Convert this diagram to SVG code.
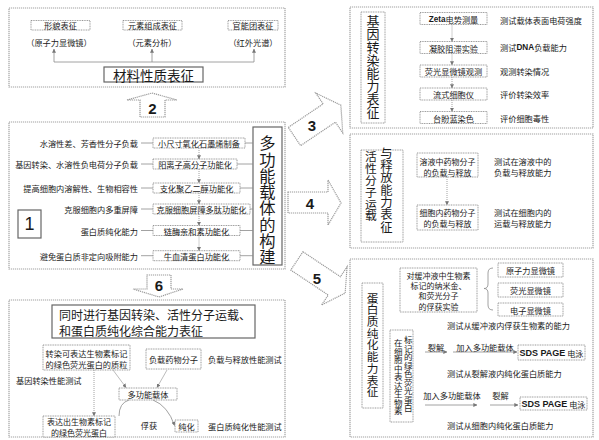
<svg xmlns="http://www.w3.org/2000/svg" width="599" height="440" viewBox="0 0 599 440">
<style>
text{font-family:"Noto Sans CJK SC","Noto Sans",sans-serif;fill:#1a1a1a;dominant-baseline:central}
.t{font-size:8.2px}
.tm{font-size:8.2px;text-anchor:middle}
.te{font-size:8.2px;text-anchor:end}
.pb{fill:none;stroke:#a2a2a2;stroke-width:1.2;stroke-dasharray:1.2 0.8}
.bx{fill:#fff;stroke:#8c8c8c;stroke-width:0.9;stroke-dasharray:1 0.7}
.tb{fill:#fff;stroke:#666;stroke-width:1.2}
.big{fill:#fff;stroke:#9a9a9a;stroke-width:1.2;stroke-dasharray:1.2 0.8}
.num{font-family:"Liberation Sans",Arial,sans-serif;font-weight:bold;font-size:15px;text-anchor:middle}
.ln{fill:none;stroke:#8a8a8a;stroke-width:0.8}
.dl{fill:none;stroke:#8a8a8a;stroke-width:0.8;stroke-dasharray:1 1}
.vt{writing-mode:vertical-rl;text-orientation:upright}
.lat{font-family:"Liberation Sans",Arial,sans-serif;font-weight:bold}
</style>
<defs>
<marker id="ah" viewBox="0 0 6 6" refX="5.5" refY="3" markerWidth="4" markerHeight="4" markerUnits="userSpaceOnUse" orient="auto"><path d="M0,0 L6,3 L0,6 z" fill="#777"/></marker>
</defs>

<!-- Panel A: material characterization -->
<g id="panelA"><rect class="pb" x="9" y="8" width="276" height="79"/></g>
<g id="nA1"><rect class="bx" x="31" y="20.5" width="59" height="9.5"/><text class="tm" x="60.5" y="25.3">形貌表征</text><text class="tm" x="59" y="42">（原子力显微镜）</text></g>
<g id="nA2"><rect class="bx" x="123" y="20.5" width="59" height="9.5"/><text class="tm" x="152.5" y="25.3">元素组成表征</text><text class="tm" x="152" y="42">（元素分析）</text></g>
<g id="nA3"><rect class="bx" x="228" y="20.5" width="50" height="9.5"/><text class="tm" x="253" y="25.3">官能团表征</text><text class="tm" x="253" y="42">（红外光谱）</text></g>
<g id="nAT"><rect class="tb" x="104" y="67" width="99" height="15"/><text x="153.5" y="74.5" style="font-size:13.5px;text-anchor:middle">材料性质表征</text></g>

<!-- Panel 1 -->
<g id="panel1"><rect class="pb" x="9" y="122" width="276" height="147"/></g>
<g id="n1num"><rect class="tb" x="18" y="210" width="23" height="28"/><text x="29.5" y="224" style="font-family:'Liberation Sans',Arial,sans-serif;font-size:18px;text-anchor:middle">1</text></g>
<g id="n1l1"><text class="te" x="138" y="143">水溶性差、芳香性分子负载</text></g>
<g id="n1l2"><text class="te" x="138" y="164">基因转染、水溶性负电荷分子负载</text></g>
<g id="n1l3"><text class="te" x="138" y="188">提高细胞内溶解性、生物相容性</text></g>
<g id="n1l4"><text class="te" x="138" y="209">克服细胞内多重屏障</text></g>
<g id="n1l5"><text class="te" x="138" y="230.5">蛋白质纯化能力</text></g>
<g id="n1l6"><text class="te" x="138" y="255.7">避免蛋白质非定向吸附能力</text></g>
<g id="n1b1"><rect class="bx" x="153" y="138" width="92" height="10"/><text class="tm" x="199" y="143">小尺寸氧化石墨烯制备</text></g>
<g id="n1b2"><rect class="bx" x="153" y="159" width="84" height="10"/><text class="tm" x="195" y="164">阳离子高分子功能化</text></g>
<g id="n1b3"><rect class="bx" x="153" y="183" width="87" height="10"/><text class="tm" x="196.5" y="188">支化聚乙二醇功能化</text></g>
<g id="n1b4"><rect class="bx" x="153" y="204" width="97" height="10"/><text class="tm" x="201.5" y="209">克服细胞屏障多肽功能化</text></g>
<g id="n1b5"><rect class="bx" x="153" y="225.5" width="87" height="10"/><text class="tm" x="196.5" y="230.5">链酶亲和素功能化</text></g>
<g id="n1b6"><rect class="bx" x="153" y="250.7" width="87" height="10"/><text class="tm" x="196.5" y="255.7">牛血清蛋白功能化</text></g>
<g id="n1T"><rect class="tb" x="253" y="127" width="29" height="138"/><text class="vt" x="267.5" y="135" style="font-size:16.3px">多功能载体的构建</text></g>

<!-- Panel 6 -->
<g id="panel6"><rect class="pb" x="9" y="300" width="276" height="137"/></g>
<g id="n6T"><rect class="tb" x="52" y="305" width="203" height="33"/><text style="font-size:12px"><tspan x="59" y="313.8">同时进行基因转染、活性分子运载、</tspan><tspan x="59" y="329.8">和蛋白质纯化综合能力表征</tspan></text></g>
<g id="n6plasmid"><rect class="bx" x="43" y="345" width="87" height="25"/><text class="tm"><tspan x="86.5" y="352.5">转染可表达生物素标记</tspan><tspan x="86.5" y="363.5">的绿色荧光蛋白的质粒</tspan></text></g>
<g id="n6drug"><rect class="bx" x="146" y="349" width="55" height="20"/><text class="tm" x="173.5" y="359">负载药物分子</text></g>
<g id="n6t1"><text class="t" x="208" y="358.5">负载与释放性能测试</text></g>
<g id="n6t2"><text class="t" x="16" y="380">基因转染性能测试</text></g>
<g id="n6carrier"><rect class="bx" x="119" y="388" width="58" height="12"/><text class="tm" x="148" y="394">多功能载体</text></g>
<g id="n6gfp"><rect class="bx" x="43" y="416" width="72" height="21"/><text class="tm" style="font-size:8px"><tspan x="79" y="421.4">表达出生物素标记</tspan><tspan x="79" y="431.6">的绿色荧光蛋白</tspan></text></g>
<g id="n6cap"><text class="tm" x="149" y="425">俘获</text></g>
<g id="n6pur"><rect class="bx" x="175" y="420" width="23" height="12"/><text class="tm" x="186.5" y="426">纯化</text></g>
<g id="n6t3"><text class="t" x="208" y="426">蛋白质纯化性能测试</text></g>

<!-- Panel 3 -->
<g id="panel3"><rect class="pb" x="350" y="7" width="243" height="121"/></g>
<g id="n3T"><rect class="bx" x="361" y="12" width="24" height="111"/><text class="vt" x="373" y="14.2" style="font-size:13px">基因转染能力表征</text></g>
<g id="n3b1"><rect class="bx" x="420" y="12.5" width="67" height="12"/><text class="tm" x="453.5" y="18.7"><tspan class="lat">Zeta</tspan>电势测量</text><text class="t" x="500" y="19.5">测试载体表面电荷强度</text></g>
<g id="n3b2"><rect class="bx" x="420" y="41.5" width="67" height="12"/><text class="tm" x="453.5" y="47.5">凝胶阻滞实验</text><text class="t" x="500" y="47">测试<tspan class="lat">DNA</tspan>负载能力</text></g>
<g id="n3b3"><rect class="bx" x="420" y="65" width="67" height="12"/><text class="tm" x="453.5" y="71">荧光显微镜观测</text><text class="t" x="500" y="70.5">观测转染情况</text></g>
<g id="n3b4"><rect class="bx" x="420" y="88" width="67" height="12"/><text class="tm" x="453.5" y="94">流式细胞仪</text><text class="t" x="500" y="94">评价转染效率</text></g>
<g id="n3b5"><rect class="bx" x="420" y="111.5" width="67" height="12"/><text class="tm" x="453.5" y="117.5">台盼蓝染色</text><text class="t" x="500" y="117.5">评价细胞毒性</text></g>

<!-- Panel 4 -->
<g id="panel4"><rect class="pb" x="350" y="134" width="243" height="114"/></g>
<g id="n4T"><rect class="bx" x="361" y="150" width="42" height="92"/><text class="vt" x="371" y="151.1" style="font-size:11.8px">活性分子运载</text><text class="vt" x="386.5" y="146.9" style="font-size:12.3px">与释放能力表征</text></g>
<g id="n4b1"><rect class="bx" x="417" y="153" width="61" height="24"/><text class="tm" style="font-size:8px"><tspan x="447.5" y="160.5">溶液中药物分子</tspan><tspan x="447.5" y="171.5">的负载与释放</tspan></text></g>
<g id="n4b2"><rect class="bx" x="417" y="205" width="61" height="25"/><text class="tm" style="font-size:8px"><tspan x="447.5" y="211.7">细胞内药物分子</tspan><tspan x="447.5" y="223">的负载与释放</tspan></text></g>
<g id="n4t1"><text class="t"><tspan x="494" y="160.5">测试在溶液中的</tspan><tspan x="494" y="171.5">负载与释放能力</tspan></text></g>
<g id="n4t2"><text class="t"><tspan x="494" y="211.7">测试在细胞内的</tspan><tspan x="494" y="222.8">运载与释放能力</tspan></text></g>

<!-- Panel 5 -->
<g id="panel5"><rect class="pb" x="350" y="259" width="243" height="178"/></g>
<g id="n5T"><rect class="bx" x="362" y="283" width="21" height="125"/><text class="vt" x="372.5" y="292.4" style="font-size:11.7px">蛋白质纯化能力表征</text></g>
<g id="n5cap"><rect class="bx" x="400" y="268" width="77" height="44"/><text class="tm" style="font-size:8px"><tspan x="438.5" y="274.8">对缓冲液中生物素</tspan><tspan x="438.5" y="285.1">标记的纳米金、</tspan><tspan x="438.5" y="295.4">和荧光分子</tspan><tspan x="438.5" y="305.7">的俘获实验</tspan></text></g>
<g id="n5m1"><rect class="bx" x="498" y="263" width="65" height="14"/><text class="tm" x="530.5" y="270">原子力显微镜</text></g>
<g id="n5m2"><rect class="bx" x="498" y="283" width="65" height="14"/><text class="tm" x="530.5" y="290">荧光显微镜</text></g>
<g id="n5m3"><rect class="bx" x="498" y="303" width="65" height="13"/><text class="tm" x="530.5" y="309.5">电子显微镜</text></g>
<g id="n5t1"><text class="t" x="447" y="325">测试从缓冲液内俘获生物素的能力</text></g>
<g id="n5gfp"><rect class="bx" x="390" y="330" width="23" height="92"/><text class="vt" x="398.3" y="339" style="font-size:8.5px">在细胞中表达生物素</text><text class="vt" x="408.3" y="335.7" style="font-size:8.5px">标记的绿色荧光蛋白</text></g>
<g id="n5r1"><text class="tm" x="436" y="346.7">裂解</text><text class="tm" x="485" y="346.7">加入多功能载体</text></g>
<g id="n5sds1"><rect class="bx" x="518" y="345" width="67" height="15"/><text class="tm" x="551.5" y="352.5"><tspan class="lat" style="font-size:9px">SDS PAGE</tspan> 电泳</text></g>
<g id="n5t2"><text class="t" x="447" y="373">测试从裂解液内纯化蛋白质能力</text></g>
<g id="n5r2"><text class="tm" x="452" y="395">加入多功能载体</text><text class="tm" x="500.5" y="395">裂解</text></g>
<g id="n5sds2"><rect class="bx" x="520" y="397" width="67" height="13"/><text class="tm" x="553.5" y="403.5"><tspan class="lat" style="font-size:9px">SDS PAGE</tspan> 电泳</text></g>
<g id="n5t3"><text class="t" x="447" y="425">测试从细胞内纯化蛋白质能力</text></g>

<!-- Big block arrows -->
<g id="arrow2"><polygon class="big" points="140,117 140,100 127,100 152,93 177,100 165,100 165,117"/><text class="num" x="152.5" y="108.5">2</text></g>
<g id="arrow6"><polygon class="big" points="147,275 171,275 171,289 183,289 159,297 133,289 147,289"/><text class="num" x="159" y="285">6</text></g>
<g id="arrow3"><polygon class="big" transform="translate(318.5,120.3) rotate(-34)" points="-29,-11 13,-11 13,-24 27,0 13,24 13,11 -29,11"/><text class="num" x="312" y="125">3</text></g>
<g id="arrow4"><polygon class="big" points="288,192 328,192 328,180 341,203 328,225 328,213 288,213"/><text class="num" x="310" y="203">4</text></g>
<g id="arrow5"><polygon class="big" transform="translate(321,277) rotate(33.7)" points="-29,-11 16,-11 16,-23 29,0 16,23 16,11 -29,11"/><text class="num" x="317" y="278">5</text></g>

<!-- Connectors -->
<g id="connectors">
<path class="ln" d="M54,62 H254"/>
<path class="ln" d="M54,62 V49" marker-end="url(#ah)"/>
<path class="ln" d="M152,62 V49" marker-end="url(#ah)"/>
<path class="ln" d="M254,62 V49" marker-end="url(#ah)"/>
<path class="ln" d="M141,143 H153 M141,164 H153 M141,188 H153 M141,209 H153 M141,230.5 H153 M141,255.7 H153"/>
<path class="ln" d="M245,143 H253 M237,164 H253 M240,188 H253 M250,209 H253 M240,230.5 H253 M240,255.7 H253"/>
<path class="dl" d="M199,148 V159" marker-end="url(#ah)"/>
<path class="dl" d="M199,169 V183" marker-end="url(#ah)"/>
<path class="dl" d="M199,193 V204" marker-end="url(#ah)"/>
<path class="dl" d="M199,214 V225.5" marker-end="url(#ah)"/>
<path class="dl" d="M199,235.5 V250.7" marker-end="url(#ah)"/>
<path class="dl" d="M94,370 V416" marker-end="url(#ah)"/>
<path class="ln" style="stroke:#aaa" d="M113,370 L126,387.5" marker-end="url(#ah)"/>
<path class="ln" style="stroke:#aaa" d="M167,370 L157,387.5" marker-end="url(#ah)"/>
<path class="ln" d="M129,400 Q119,403 119,416"/>
<path class="ln" d="M153,400 Q168,406 174.5,425.5" marker-end="url(#ah)"/>
<path class="dl" d="M452,24.5 V41.5" marker-end="url(#ah)"/>
<path class="dl" d="M452,53.5 V65" marker-end="url(#ah)"/>
<path class="dl" d="M452,77 V88" marker-end="url(#ah)"/>
<path class="dl" d="M452,100 V111.5" marker-end="url(#ah)"/>
<path class="dl" d="M447,177 V205" marker-end="url(#ah)"/>
<path class="ln" d="M493,268 Q488,268 488,273 V284 Q488,288.5 484,288.5 Q488,288.5 488,293 V305 Q488,310 493,310"/>
<path class="ln" d="M425,352 H447" marker-end="url(#ah)"/>
<path class="ln" d="M453,352 H517" marker-end="url(#ah)"/>
<path class="ln" d="M425,405 H477" marker-end="url(#ah)"/>
<path class="ln" d="M490,405 H518" marker-end="url(#ah)"/>
</g>
</svg>
